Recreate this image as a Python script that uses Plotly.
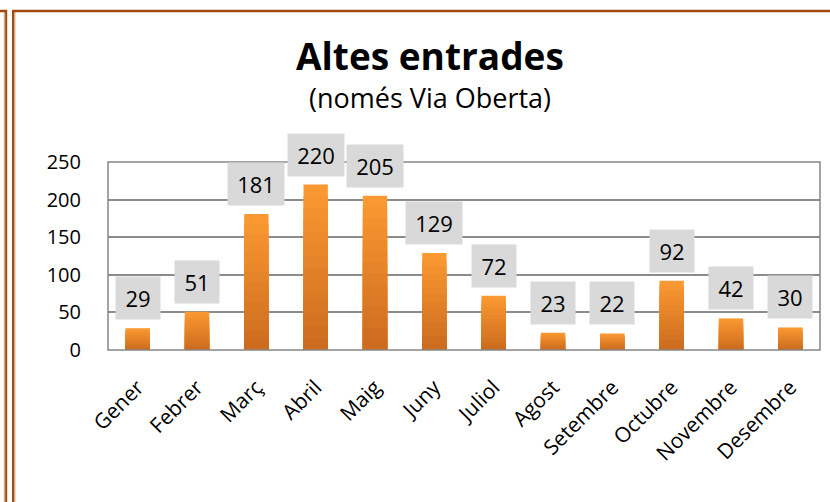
import plotly.graph_objects as go

months = ["Gener", "Febrer", "Març", "Abril", "Maig", "Juny", "Juliol",
          "Agost", "Setembre", "Octubre", "Novembre", "Desembre"]
values = [29, 51, 181, 220, 205, 129, 72, 23, 22, 92, 42, 30]
y_ticks = [0, 50, 100, 150, 200, 250]
title_text = "Altes entrades"
subtitle_text = "(només Via Oberta)"

W, H = 830, 502
L, R, T, B = 108, 10, 162, 152
PW, PH = W - L - R, H - T - B

def px(x):
    return (x - L) / PW

def py(y):
    return (H - B - y) / PH

FONT = "Open Sans"

fig = go.Figure()

# gradient bars: overlay layers from light (top) to dark (bottom)
n = 14
top_c = (250, 152, 50)
bot_c = (205, 108, 30)
for k in range(n):
    f = (n - k) / n
    t = k / (n - 1)
    c = tuple(round(top_c[i] + (bot_c[i] - top_c[i]) * t) for i in range(3))
    fig.add_trace(go.Bar(
        x=months, y=[v * f for v in values], width=0.41,
        marker=dict(color="rgb(%d,%d,%d)" % c, line=dict(width=0)),
        hoverinfo="skip", showlegend=False))

annotations = []
for m, v in zip(months, values):
    annotations.append(dict(
        x=m, y=v, xref="x", yref="y", yanchor="bottom", xanchor="center", yshift=8,
        text=str(v), showarrow=False, bgcolor="#D9D9D9",
        borderpad=6, width=12 * len(str(v)) + 8,
        font=dict(family=FONT, size=22, color="#000000")))

annotations.append(dict(
    x=px(430), y=py(55), xref="paper", yref="paper", text="<b>%s</b>" % title_text,
    xanchor="center", yanchor="middle",
    showarrow=False, font=dict(family=FONT, size=37, color="#000000")))
annotations.append(dict(
    x=px(430), y=py(97), xref="paper", yref="paper", text=subtitle_text,
    xanchor="center", yanchor="middle",
    showarrow=False, font=dict(family=FONT, size=27, color="#000000")))

brown = "#9E4A0C"
tan = "#D8AA82"
shapes = []
# frame lines
shapes.append(dict(type="line", xref="paper", yref="paper",
                   x0=px(4.5), x1=px(4.5), y0=py(11), y1=py(H + 5),
                   line=dict(color=tan, width=1.5)))
shapes.append(dict(type="line", xref="paper", yref="paper",
                   x0=px(6.2), x1=px(6.2), y0=py(10), y1=py(H + 5),
                   line=dict(color=brown, width=2)))
shapes.append(dict(type="line", xref="paper", yref="paper",
                   x0=px(13), x1=px(13), y0=py(10), y1=py(H + 5),
                   line=dict(color=brown, width=2)))
shapes.append(dict(type="line", xref="paper", yref="paper",
                   x0=px(14.7), x1=px(14.7), y0=py(12), y1=py(H + 5),
                   line=dict(color=tan, width=1.5)))
shapes.append(dict(type="line", xref="paper", yref="paper",
                   x0=px(12), x1=px(W + 5), y0=py(11), y1=py(11),
                   line=dict(color=brown, width=2.5)))
shapes.append(dict(type="line", xref="paper", yref="paper",
                   x0=px(-5), x1=px(7), y0=py(11), y1=py(11),
                   line=dict(color=brown, width=2.5)))
# plot area border
shapes.append(dict(type="rect", xref="paper", yref="paper",
                   x0=0, x1=1, y0=0, y1=1, layer="above",
                   line=dict(color="#868686", width=1.5)))

fig.update_layout(
    width=W, height=H,
    margin=dict(l=L, r=R, t=T, b=B, autoexpand=False),
    paper_bgcolor="white", plot_bgcolor="white",
    barmode="overlay", bargap=0.59,
    showlegend=False,
    annotations=annotations, shapes=shapes,
    xaxis=dict(type="category", categoryorder="array", categoryarray=months,
               tickangle=-45, showgrid=False, ticks="",
               ticklabelstandoff=20, automargin=False,
               tickfont=dict(family=FONT, size=21, color="#000000"),
               showline=False, zeroline=False),
    yaxis=dict(range=[0, 250], tickvals=y_ticks, ticktext=[str(t) for t in y_ticks],
               showgrid=True, gridcolor="#8C8C8C", gridwidth=1.5,
               zeroline=False, showline=False, ticks="",
               ticklabelstandoff=26, automargin=False,
               tickfont=dict(family=FONT, size=20, color="#000000")),
)

fig.write_html("out.html", config={"displayModeBar": False},
               post_script="document.body.style.margin='0px';document.body.style.overflow='hidden';")
